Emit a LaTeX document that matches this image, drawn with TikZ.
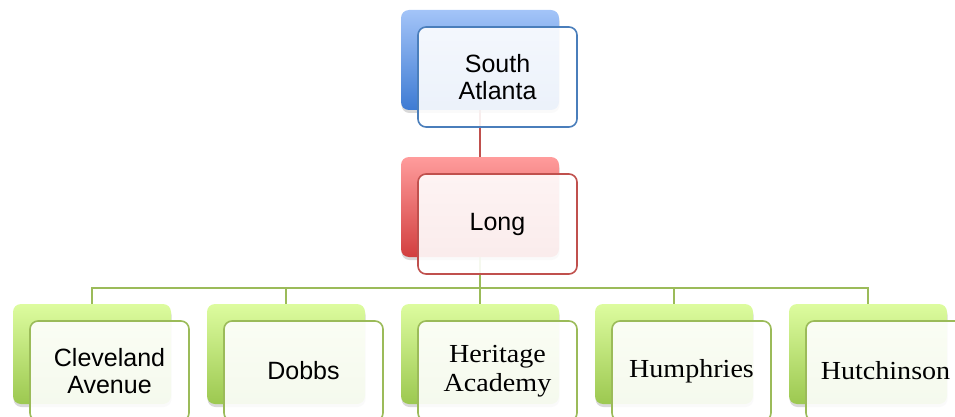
\documentclass[tikz,border=0pt]{standalone}
\usepackage{fontspec}
\newfontfamily\orgsans{Liberation Sans}
\newfontfamily\orgserif[FakeStretch=1.08]{Liberation Serif}
\usetikzlibrary{shadows,backgrounds,positioning}

\definecolor{blueline}{HTML}{4A7EBB}
\definecolor{bluetop}{HTML}{A3C4F8}
\definecolor{bluebot}{HTML}{3E7BD3}
\definecolor{redline}{HTML}{C0504D}
\definecolor{redtop}{HTML}{FF9C9C}
\definecolor{redbot}{HTML}{D23F3F}
\definecolor{greenline}{HTML}{9BBB59}
\definecolor{greentop}{HTML}{DDFC9F}
\definecolor{greenbot}{HTML}{9CC850}

\tikzset{
    backbox/.style={rounded corners=8pt, minimum width=158pt, minimum height=100pt, inner sep=0pt,
        drop shadow={shadow xshift=0.5pt, shadow yshift=-3pt, opacity=0.3}},
    frontbox/.style={draw, rounded corners=8pt, minimum width=159pt, minimum height=100pt, inner sep=0pt,
        fill=white, fill opacity=0.9, text opacity=1, line width=1.6pt, align=center},
    sanstext/.style={font=\orgsans\fontsize{25}{26.5}\selectfont},
    seriftext/.style={font=\orgserif\fontsize{26}{29}\selectfont},
}

\begin{document}
\begin{tikzpicture}[x=1pt, y=-1pt]
    \useasboundingbox (0,0) rectangle (955,417);
    \clip (0,0) rectangle (955,417);
    % top level
    \node[backbox, top color=bluetop, bottom color=bluebot] (sa-back) at (480,60) {};
    \node[frontbox, draw=blueline, sanstext] (sa) at ([shift={(17.5,17)}]sa-back.center) {South\\Atlanta};
    % middle level
    \node[backbox, top color=redtop, bottom color=redbot] (lg-back) at (480,207) {};
    \node[frontbox, draw=redline, sanstext] (lg) at ([shift={(17.5,17)}]lg-back.center) {Long};
    % schools
    \foreach \i/\txt/\fnt in {0/{Cleveland\\Avenue}/sanstext, 1/{Dobbs}/sanstext,
        2/{Heritage\\Academy}/seriftext, 3/{Humphries}/seriftext, 4/{Hutchinson}/seriftext}
    {
        \node[backbox, top color=greentop, bottom color=greenbot] (sc\i-back) at (92+194*\i,354) {};
        \node[frontbox, draw=greenline, \fnt] (sc\i) at ([shift={(17.5,17)}]sc\i-back.center) {\txt};
    }
    \coordinate (bus) at (480,288);
    \begin{scope}[on background layer]
        \draw[redline, line width=1.8pt] (sa-back) -- (lg-back);
        \draw[greenline, line width=1.8pt] (lg-back) -- (bus);
        \foreach \i in {0,...,4}
        \draw[greenline, line width=1.8pt] (bus) -| (sc\i-back.center);
    \end{scope}
\end{tikzpicture}
\end{document}
